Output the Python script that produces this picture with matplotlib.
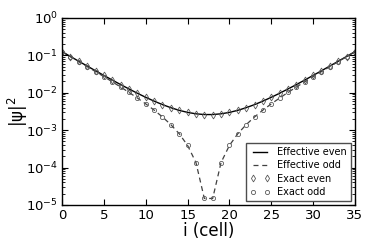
import numpy as np
import matplotlib; matplotlib.use("Agg")
import matplotlib.pyplot as plt

# cell index
cells = list(range(36))

# left half (i = 0..17), mirrored for the right half
even_half = [0.125, 0.0930, 0.0693, 0.0517, 0.0386, 0.0290, 0.0218, 0.0165, 0.0126,
             0.00968, 0.00754, 0.00596, 0.00481, 0.00398, 0.00338, 0.00298, 0.00273, 0.00261]
odd_half = [0.125, 0.0922, 0.0680, 0.0500, 0.0367, 0.0269, 0.0196, 0.0142, 0.0102,
            0.00721, 0.00503, 0.00343, 0.00225, 0.00140, 0.000800, 0.000390, 0.000136, 0.0000149]
eff_even = even_half + even_half[::-1]
eff_odd = odd_half + odd_half[::-1]
exact_even = eff_even
exact_odd = eff_odd

plt.rcParams.update({
    "font.family": "DejaVu Sans",
    "xtick.direction": "in", "ytick.direction": "in",
    "xtick.top": True, "ytick.right": True,
    "xtick.major.size": 4, "ytick.major.size": 4,
    "xtick.minor.size": 2, "ytick.minor.size": 2,
    "axes.linewidth": 1.0,
})

fig = plt.figure(figsize=(3.74, 2.49), dpi=100)
ax = fig.add_axes([0.166, 0.177, 0.783, 0.751])
ax.plot(cells, eff_even, "-", color="k", lw=1.0, label="Effective even")
ax.plot(cells, eff_odd, "--", color="0.25", lw=0.9, dashes=(4, 3), label="Effective odd")
ax.plot(cells, exact_even, linestyle="none", marker="d", ms=3.5, mfc="none", mec="0.35",
        mew=0.6, label="Exact even")
ax.plot(cells, exact_odd, linestyle="none", marker="o", ms=3.0, mfc="none", mec="0.35",
        mew=0.6, label="Exact odd")
ax.set_yscale("log")
ax.set_xlim(0, 35); ax.set_ylim(1e-5, 1)
ax.set_xticks([0, 5, 10, 15, 20, 25, 30, 35])
ax.tick_params(labelsize=9.5, pad=3)
ax.set_xlabel("i (cell)", fontsize=12, labelpad=0)
ax.set_ylabel(r"$|\mathrm{\psi}|^2$", fontsize=12)
ax.yaxis.set_label_coords(-0.11, 0.5)
leg = ax.legend(loc="lower right", fontsize=7, numpoints=2, fancybox=False, framealpha=1,
                edgecolor="0.3", handlelength=2.0, borderaxespad=0.4, labelspacing=0.35)
leg.get_frame().set_linewidth(1.0)
fig.savefig("out.png", dpi=100)
